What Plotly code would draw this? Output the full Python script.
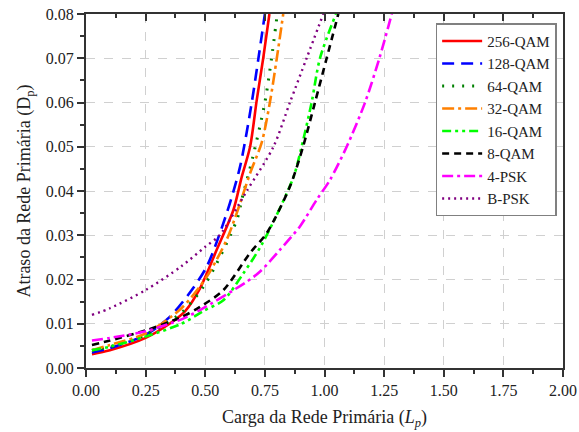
import plotly.graph_objects as go

# Data (x = Carga Lp, y = Atraso Dp)
x_256 = [0.025, 0.1, 0.25, 0.35, 0.415, 0.478, 0.548, 0.618, 0.653, 0.688, 0.716, 0.743, 0.769]
y_256 = [0.0031, 0.0040, 0.0068, 0.0100, 0.0128, 0.0180, 0.0267, 0.0357, 0.0432, 0.0500, 0.0606, 0.0700, 0.0800]

x_128 = [0.025, 0.1, 0.25, 0.35, 0.428, 0.506, 0.59, 0.646, 0.695, 0.723, 0.75]
y_128 = [0.0035, 0.0045, 0.0075, 0.0115, 0.0165, 0.0229, 0.0350, 0.0455, 0.0600, 0.0700, 0.0800]

x_64 = [0.025, 0.1, 0.25, 0.4, 0.5, 0.632, 0.653, 0.70, 0.75, 0.778, 0.802]
y_64 = [0.0040, 0.0048, 0.0075, 0.0125, 0.0190, 0.0334, 0.0380, 0.0478, 0.0600, 0.0700, 0.0800]

x_32 = [0.025, 0.1, 0.25, 0.4, 0.506, 0.59, 0.632, 0.688, 0.737, 0.771, 0.80, 0.827]
y_32 = [0.0040, 0.0052, 0.0078, 0.0135, 0.0206, 0.0290, 0.0350, 0.0440, 0.0510, 0.0600, 0.0700, 0.0800]

x_16 = [0.025, 0.1, 0.25, 0.4, 0.5, 0.576, 0.66, 0.738, 0.869, 0.904, 0.946, 0.981, 1.048]
y_16 = [0.0040, 0.0048, 0.0071, 0.0100, 0.0131, 0.0153, 0.0214, 0.0280, 0.0430, 0.0500, 0.0600, 0.0700, 0.0800]

x_8 = [0.025, 0.1, 0.25, 0.4, 0.478, 0.576, 0.688, 0.758, 0.855, 0.91, 0.96, 1.009, 1.058]
y_8 = [0.0052, 0.0062, 0.0085, 0.0115, 0.0138, 0.0176, 0.0260, 0.0305, 0.0410, 0.0500, 0.0600, 0.0700, 0.0800]

x_4 = [0.025, 0.1, 0.25, 0.4, 0.478, 0.674, 0.73, 0.813, 0.897, 0.967, 1.023, 1.093, 1.17, 1.23, 1.282]
y_4 = [0.0062, 0.0068, 0.0083, 0.0110, 0.0131, 0.0195, 0.0218, 0.0267, 0.0320, 0.0380, 0.0425, 0.0500, 0.0600, 0.0700, 0.0800]

x_b = [0.025, 0.1, 0.25, 0.4, 0.5, 0.56, 0.674, 0.786, 0.855, 0.925, 0.995]
y_b = [0.0120, 0.0135, 0.0176, 0.0230, 0.0274, 0.0300, 0.0400, 0.0500, 0.0600, 0.0700, 0.0800]

series = [
    ("256-QAM", x_256, y_256, "#FF0000", "solid", 2.6),
    ("128-QAM", x_128, y_128, "#0000FF", "12px,7px", 2.6),
    ("64-QAM", x_64, y_64, "#008000", "2px,8px", 3.0),
    ("32-QAM", x_32, y_32, "#FF8000", "12px,4px,3px,4px", 2.6),
    ("16-QAM", x_16, y_16, "#00FF00", "9px,4px,3px,4px,3px,4px", 2.6),
    ("8-QAM", x_8, y_8, "#000000", "7px,5px", 2.6),
    ("4-PSK", x_4, y_4, "#FF00FF", "11px,4px,3px,4px", 2.6),
    ("B-PSK", x_b, y_b, "#800080", "2px,4px", 2.4),
]

fig = go.Figure()
for name, xs, ys, color, dash, w in series:
    fig.add_trace(go.Scatter(
        x=xs, y=ys, mode="lines", name=name,
        line=dict(color=color, dash=dash, width=w, shape="spline", smoothing=0.8),
    ))

font_family = "Times New Roman, Liberation Serif, serif"
tick_col = "#333333"
fig.update_layout(
    width=579, height=432,
    margin=dict(l=86, r=16, t=14, b=64),
    paper_bgcolor="white", plot_bgcolor="white",
    font=dict(family=font_family, size=15, color="#222222"),
    showlegend=True,
    legend=dict(
        x=0.733, y=0.974, xanchor="left", yanchor="top",
        bgcolor="white", bordercolor="#808080", borderwidth=1.5,
        font=dict(family=font_family, size=15, color="#222222"),
        tracegroupgap=0, itemwidth=40,
    ),
    xaxis=dict(
        range=[0, 2.0], dtick=0.25, tick0=0, tickformat=".2f", automargin=False,
        showline=True, linecolor=tick_col, linewidth=2, mirror=True,
        ticks="outside", ticklen=7, tickwidth=1.5, tickcolor=tick_col,
        minor=dict(dtick=0.125, ticks="outside", ticklen=4, tickwidth=1.5, tickcolor=tick_col, showgrid=False),
        showgrid=True, gridcolor="#D0D0D0", griddash="dash", gridwidth=1,
        zeroline=False,
        title=dict(text="Carga da Rede Primária (<i>L<sub>p</sub></i>)", font=dict(size=18, family=font_family), standoff=12),
        tickfont=dict(size=16, family=font_family),
    ),
    yaxis=dict(
        range=[0, 0.08], dtick=0.01, tick0=0, tickformat=".2f", automargin=False,
        showline=True, linecolor=tick_col, linewidth=2, mirror=True,
        ticks="outside", ticklen=7, tickwidth=1.5, tickcolor=tick_col,
        minor=dict(dtick=0.005, ticks="outside", ticklen=4, tickwidth=1.5, tickcolor=tick_col, showgrid=False),
        showgrid=True, gridcolor="#D0D0D0", griddash="dash", gridwidth=1,
        zeroline=False,
        title=dict(text="Atraso da Rede Primária (D<sub>p</sub>)", font=dict(size=18, family=font_family), standoff=10),
        tickfont=dict(size=16, family=font_family),
    ),
    xaxis2=dict(
        overlaying="x", side="top", matches="x", range=[0, 2.0], dtick=0.25, tick0=0, automargin=False,
        showticklabels=False, showgrid=False, zeroline=False, showline=False,
        ticks="inside", ticklen=7, tickwidth=1.5, tickcolor=tick_col,
        minor=dict(dtick=0.125, ticks="inside", ticklen=4, tickwidth=1.5, tickcolor=tick_col),
    ),
)
fig.add_trace(go.Scatter(x=[None], y=[None], xaxis="x2", showlegend=False, hoverinfo="skip"))

fig.write_html("out.html")
